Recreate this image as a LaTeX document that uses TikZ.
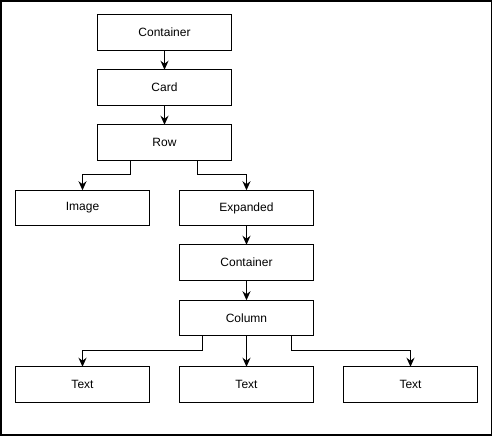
\documentclass[tikz,border=0pt]{standalone}
\usepackage{fontspec}
\setmainfont{Liberation Sans}
\usetikzlibrary{arrows.meta,positioning}

\begin{document}
\begin{tikzpicture}[
    x=1pt, y=1pt,
    node distance=19.5pt,
    widget/.style={rectangle, draw, line width=1pt, outer sep=0pt, minimum width=134pt, minimum height=35.5pt, inner sep=0pt, font=\fontsize{12}{14}\selectfont},
    arrow/.style={line width=1pt, -{Stealth[length=9pt,width=8pt,inset=3pt]}}
]

% Frame
\draw[line width=1.2pt] (1,-1) rectangle (491.5,-435);
\useasboundingbox (0,0) rectangle (493,-436);

% Top column
\node[widget] (container_top) at (164.5,-32.5) {Container};
\node[widget, below=of container_top] (card) {Card};
\node[widget, below=of card] (row) {Row};

% Row children
\node[widget, below=30pt of row, xshift=-82pt] (image) {Image};
\node[widget, below=30pt of row, xshift=82pt] (expanded) {Expanded};
\node[widget, below=19pt of expanded] (container_inner) {Container};
\node[widget, below=20pt of container_inner] (column) {Column};

% Column children
\node[widget, below=31pt of column, xshift=-164pt] (text_left) {Text};
\node[widget, below=31pt of column] (text_mid) {Text};
\node[widget, below=31pt of column, xshift=164pt] (text_right) {Text};

% Arrows
\draw[arrow] (container_top) -- (card);
\draw[arrow] (card) -- (row);
\draw[arrow] ([xshift=-34pt]row.south) -- ++(0,-14) -| (image.north);
\draw[arrow] ([xshift=33pt]row.south) -- ++(0,-14) -| (expanded.north);
\draw[arrow] (expanded) -- (container_inner);
\draw[arrow] (container_inner) -- (column);
\draw[arrow] ([xshift=-44.5pt]column.south) -- ++(0,-15) -| (text_left.north);
\draw[arrow] (column) -- (text_mid);
\draw[arrow] ([xshift=44.5pt]column.south) -- ++(0,-15) -| (text_right.north);

\end{tikzpicture}
\end{document}
